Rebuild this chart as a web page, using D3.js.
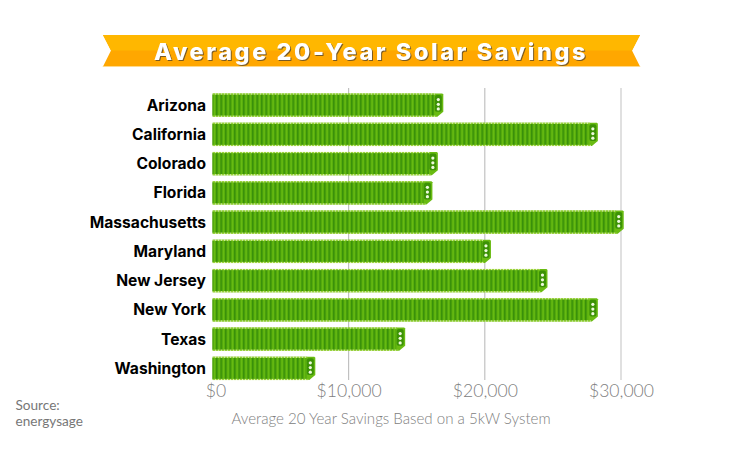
<!DOCTYPE html>
<html>
<head>
<meta charset="utf-8">
<script src="https://cdn.jsdelivr.net/npm/d3@7"></script>
<style>
  html, body { margin: 0; background: #fff; }
  svg { display: block; }
  text { font-family: Lato, "Open Sans", sans-serif; }
</style>
</head>
<body>
<div id="chart"></div>
<script>
const states = ["Arizona", "California", "Colorado", "Florida", "Massachusetts", "Maryland", "New Jersey", "New York", "Texas", "Washington"]
const savings = [16950, 28300, 16550, 16150, 30200, 20450, 24600, 28300, 14150, 7550]
const tickValues = [0, 10000, 20000, 30000]
const title = "Average 20-Year Solar Savings"
const axisTitle = "Average 20 Year Savings Based on a 5kW System"
const sourceLines = ["Source:", "energysage"]

const width = 745, height = 464
const svg = d3.select("#chart").append("svg").attr("width", width).attr("height", height)

const x = d3.scaleLinear().domain([0, 30000]).range([212.5, 621])
const y = d3.scaleBand().domain(states).range([90.5, 383]).paddingInner(0.2).paddingOuter(0.1)

// stacked panel texture
const defs = svg.append("defs")
const pattern = defs.append("pattern")
  .attr("id", "panels").attr("patternUnits", "userSpaceOnUse")
  .attr("width", 4.5).attr("height", 40)
pattern.append("rect").attr("width", 4.5).attr("height", 40).attr("fill", "#58ad0c")
pattern.append("rect").attr("x", 0).attr("width", 1.5).attr("height", 40).attr("fill", "#38900a")
pattern.append("rect").attr("x", 2.6).attr("width", 1).attr("height", 40).attr("fill", "#68bd14")
const edge = defs.append("pattern")
  .attr("id", "edge").attr("patternUnits", "userSpaceOnUse")
  .attr("width", 3).attr("height", 2)
edge.append("rect").attr("width", 2).attr("height", 2).attr("fill", "#9bd23c")
edge.append("rect").attr("x", 2).attr("width", 1).attr("height", 2).attr("fill", "#d5ecae")

// banner
const banner = svg.append("g")
banner.append("path").attr("d", "M103,35H640L632,50.5L640,66.5H103L111,50.5Z").attr("fill", "#ffa700")
banner.append("path").attr("d", "M103,35H640L632,50.5H111Z").attr("fill", "#ffb700")
banner.append("path").attr("d", "M103,66H640L640.5,67H102.5Z").attr("fill", "#ffd98a")
banner.append("text").attr("x", 371).attr("y", 59.5).attr("text-anchor", "middle")
  .attr("font-size", 23.5).attr("font-weight", 800).attr("letter-spacing", 2.55)
  .attr("fill", "#fff").style("filter", "drop-shadow(1px 1.2px 0 #7a5a22)")
  .style("font-family", "Inter, sans-serif")
  .text(title)

// grid
svg.append("g").selectAll("line").data(tickValues.slice(1)).enter().append("line")
  .attr("x1", d => x(d)).attr("x2", d => x(d))
  .attr("y1", 88).attr("y2", 380)
  .attr("stroke", (d, i) => i === 2 ? "#d9d9d9" : "#b5b5b5")
  .attr("stroke-width", (d, i) => i === 2 ? 1.6 : 1)

// bars
const bars = svg.append("g").selectAll("g").data(states).enter().append("g")
  .attr("transform", d => `translate(0,${y(d)})`)

const h = y.bandwidth()
bars.each(function(d, i) {
  const g = d3.select(this)
  const x0 = x(0), x1 = x(savings[i])
  g.append("path")
    .attr("d", `M${x0},0H${x1 - 1}L${x1},1V${h - 5}L${x1 - 6},${h}H${x0}Z`)
    .attr("fill", "#69bb12")
  g.append("rect").attr("x", x0).attr("y", 1).attr("width", x1 - x0 - 9).attr("height", h - 2)
    .attr("fill", "url(#panels)")
  g.append("rect").attr("x", x0).attr("y", 0).attr("width", x1 - x0 - 8).attr("height", 1.2)
    .attr("fill", "url(#edge)")
  g.append("rect").attr("x", x0).attr("y", h - 1.2).attr("width", x1 - x0 - 7).attr("height", 1.2)
    .attr("fill", "url(#edge)")
  g.append("rect").attr("x", x1 - 8.5).attr("y", 1.5).attr("width", 7).attr("height", h - 6.5)
    .attr("rx", 2).attr("fill", "#3c9206")
  g.selectAll("circle").data([0.2, 0.4, 0.6]).enter().append("circle")
    .attr("cx", x1 - 5).attr("cy", f => f * h + 1.5).attr("r", 1.6)
    .attr("fill", "#eef9dd")
})

// state labels
svg.append("g").selectAll("text").data(states).enter().append("text")
  .attr("x", 206).attr("y", d => y(d) + h / 2 + 5.5)
  .attr("text-anchor", "end").attr("font-size", 15.6).attr("font-weight", 700)
  .style("font-family", "Inter, sans-serif")
  .attr("fill", "#000").text(d => d)

// value axis
const axis = svg.append("g").attr("transform", "translate(0,382)")
  .call(d3.axisBottom(x).tickValues(tickValues).tickSize(0).tickPadding(2)
    .tickFormat(d => "$" + d3.format(",")(d)))
axis.select(".domain").remove()
axis.selectAll("text").attr("font-size", 17.6).attr("fill", "#808080")
  .style("font-family", "Lato, sans-serif").style("font-weight", 300)
  .attr("dx", d => d === 0 ? 3 : 0)

svg.append("text").attr("x", 391).attr("y", 424).attr("text-anchor", "middle")
  .attr("font-size", 15.1).attr("fill", "#808080").style("font-weight", 300).text(axisTitle)

svg.append("g").selectAll("text").data(sourceLines).enter().append("text")
  .attr("x", 15.5).attr("y", (d, i) => 410 + i * 16)
  .attr("font-size", 13.6).attr("fill", "#777").text(d => d)
</script>
</body>
</html>
